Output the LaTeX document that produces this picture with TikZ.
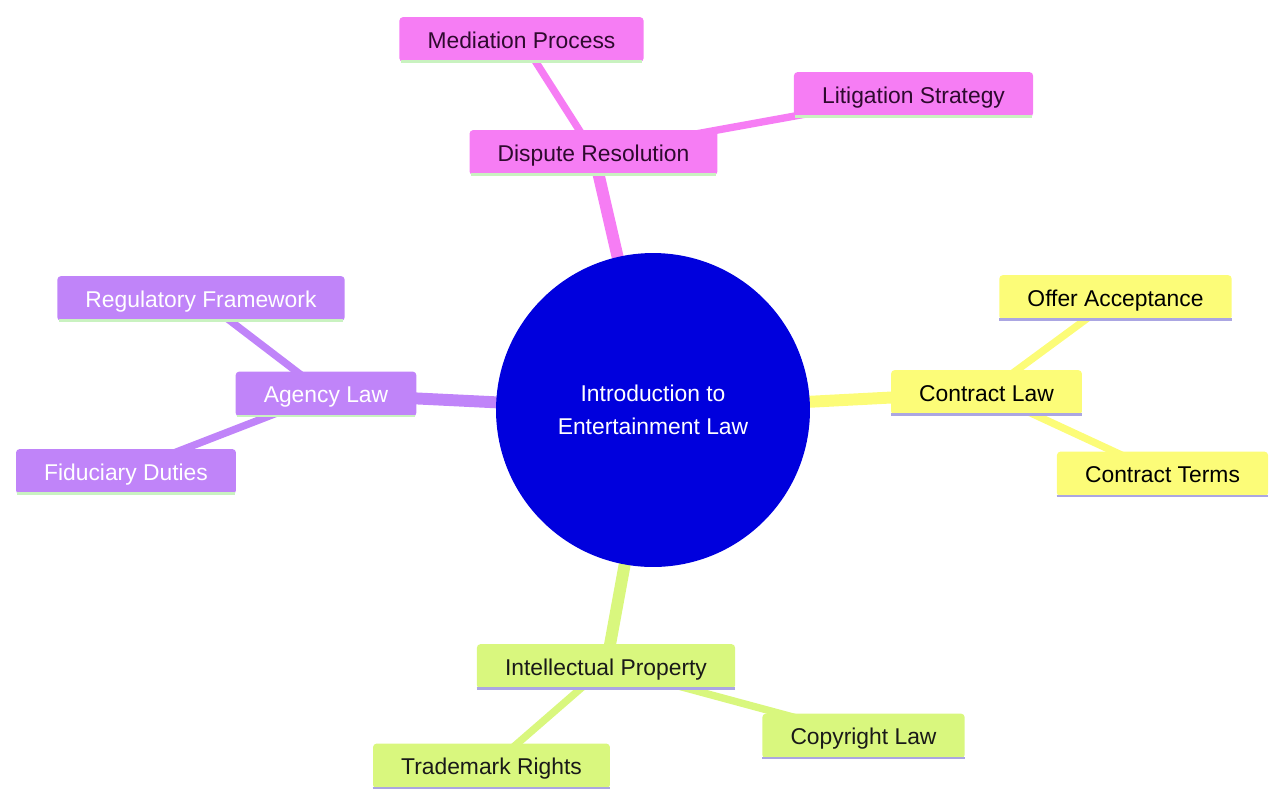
\documentclass[tikz,border=0pt]{standalone}
\usepackage{fontspec}
\setmainfont{Liberation Sans}
\usetikzlibrary{backgrounds}
\definecolor{pinkF}{HTML}{F67DF4}
\definecolor{pinkT}{HTML}{2E0A2E}
\definecolor{purpF}{HTML}{C084F9}
\definecolor{yelF}{HTML}{FCFC78}
\definecolor{greF}{HTML}{D9F77E}
\definecolor{rootF}{HTML}{0000DD}
\definecolor{lgreen}{HTML}{C9F2C0}
\definecolor{lav}{HTML}{ABA6E2}
\begin{document}
\begin{tikzpicture}[x=0.02cm,y=-0.02cm, font=\fontsize{13}{19}\selectfont,
  box/.style={rectangle, rounded corners=2pt, inner xsep=16pt, inner ysep=0pt, minimum height=25.5pt, text height=11pt, text depth=1pt},
  pinkbox/.style={box, fill=pinkF, text=pinkT},
  purpbox/.style={box, fill=purpF, text=white},
  yelbox/.style={box, fill=yelF, text=black},
  grebox/.style={box, fill=greF, text=black!90},
  rootnode/.style={circle, fill=rootF, text=white, minimum size=6.28cm, align=center, inner sep=0pt},
  thick edge/.style={line width=6.8pt},
  thin edge/.style={line width=4.2pt},
  underline/.style={line width=1.6pt}]
\useasboundingbox (0,0) rectangle (1269,796);

\node[rootnode] (root) at (653,410) {Introduction to\\Entertainment Law};

\node[pinkbox] (dis) at (593.5,152.5) {Dispute Resolution};
\node[pinkbox] (med) at (521.5,39.5) {Mediation Process};
\node[pinkbox] (lit) at (913.5,94.5) {Litigation Strategy};

\node[purpbox] (age) at (326,394) {Agency Law};
\node[purpbox] (reg) at (201,298.5) {Regulatory Framework};
\node[purpbox] (fid) at (126,471.5) {Fiduciary Duties};

\node[yelbox] (con) at (986.5,392.5) {Contract Law};
\node[yelbox] (off) at (1115.5,297.5) {Offer Acceptance};
\node[yelbox] (ter) at (1162.5,474) {Contract Terms};

\node[grebox] (ip) at (606,666.5) {Intellectual Property};
\node[grebox] (cop) at (863.5,736) {Copyright Law};
\node[grebox] (tra) at (491.5,766) {Trademark Rights};

\begin{scope}[on background layer]
  \draw[thick edge, pinkF] (root.center) -- (dis.center);
  \draw[thin edge, pinkF] (dis.center) -- (med.center);
  \draw[thin edge, pinkF] (dis.center) -- (lit.center);
  \draw[thick edge, purpF] (root.center) -- (age.center);
  \draw[thin edge, purpF] (age.center) -- (reg.center);
  \draw[thin edge, purpF] (age.center) -- (fid.center);
  \draw[thick edge, yelF] (root.center) -- (con.center);
  \draw[thin edge, yelF] (con.center) -- (off.center);
  \draw[thin edge, yelF] (con.center) -- (ter.center);
  \draw[thick edge, greF] (root.center) -- (ip.center);
  \draw[thin edge, greF] (ip.center) -- (cop.center);
  \draw[thin edge, greF] (ip.center) -- (tra.center);
\end{scope}

\foreach \n in {dis,med,lit,age,reg,fid}
  \draw[underline, lgreen] ([yshift=0.4pt,xshift=1pt]\n.south west) -- ([yshift=0.4pt,xshift=-1pt]\n.south east);
\foreach \n in {con,off,ter,ip,cop,tra}
  \draw[underline, lav] ([yshift=0.4pt]\n.south west) -- ([yshift=0.4pt]\n.south east);
\end{tikzpicture}
\end{document}
